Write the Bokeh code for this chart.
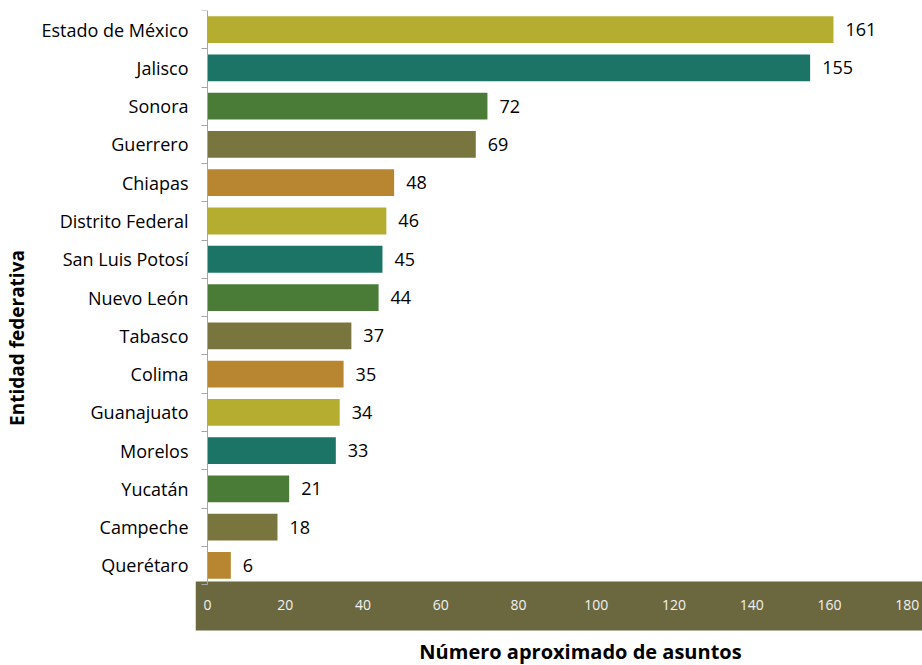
import math
from bokeh.plotting import figure
from bokeh.models import Range1d, FixedTicker, LinearAxis, Label, ColumnDataSource
from bokeh.core.properties import value
from bokeh.embed import file_html
from bokeh.resources import INLINE

# ---- data ----
categories = ["Estado de México", "Jalisco", "Sonora", "Guerrero", "Chiapas",
              "Distrito Federal", "San Luis Potosí", "Nuevo León", "Tabasco",
              "Colima", "Guanajuato", "Morelos", "Yucatán", "Campeche", "Querétaro"]
values = [161, 155, 72, 69, 48, 46, 45, 44, 37, 35, 34, 33, 21, 18, 6]
x_ticks = [0, 20, 40, 60, 80, 100, 120, 140, 160, 180]
x_title = "Número aproximado de asuntos"
y_title = "Entidad federativa"

# ---- style ----
palette = ["#B5AD30", "#1B7466", "#4A7C38", "#78753F", "#B88530"]
BAND = "#6B6840"
AXIS_GRAY = "#A6A6A6"
FONT = "Open Sans"

n = len(categories)
pos = [n - 1 - i for i in range(n)]
colors = [palette[i % len(palette)] for i in range(n)]

W, H = 922, 665
x_start, x_end = -3.09, 183.9
y_start, y_end = -2.615, n - 0.5
band_top, band_bottom = -0.42, -1.70

p = figure(width=W, height=H, output_backend="svg", toolbar_location=None,
           x_range=Range1d(x_start, x_end), y_range=Range1d(y_start, y_end),
           min_border_left=195, min_border_right=0, min_border_top=10,
           min_border_bottom=0)
p.outline_line_color = None
p.grid.visible = False
p.background_fill_color = "white"
p.border_fill_color = "white"

# dark band behind the x tick labels
p.quad(left=[x_start], right=[x_end], top=[band_top], bottom=[band_bottom],
       fill_color=BAND, line_color=None)

src = ColumnDataSource(dict(y=pos, v=values, c=colors,
                            lbl=[str(v) for v in values]))
p.hbar(y="y", left=0, right="v", height=0.7, fill_color="c",
       line_color=None, source=src)
p.text(x="v", y="y", text="lbl", x_offset=12, text_align="left",
       text_baseline="middle", text_font=value(FONT), text_font_size="18px",
       text_color="#000000", source=src)

# y axis with the category labels (at frame left)
yax = p.yaxis[0]
yax.ticker = FixedTicker(ticks=pos)
yax.major_label_overrides = {pp: c for pp, c in zip(pos, categories)}
yax.bounds = (-0.5, n - 0.5)
yax.axis_line_color = None
yax.major_tick_line_color = None
yax.minor_tick_line_color = None
yax.major_tick_out = 0
yax.major_tick_in = 0
yax.minor_tick_out = 0
yax.minor_tick_in = 0
yax.major_label_standoff = 7
yax.major_label_text_font = FONT
yax.major_label_text_font_size = "18px"
yax.major_label_text_color = "#000000"
yax.axis_label = y_title
yax.axis_label_standoff = 8
yax.axis_label_text_font = FONT
yax.axis_label_text_font_size = "19px"
yax.axis_label_text_font_style = "bold"
yax.axis_label_text_color = "#000000"

# axis line with category-boundary ticks, at x = 0
rule = LinearAxis(fixed_location=0, bounds=(-0.5, n - 0.5),
                  ticker=FixedTicker(ticks=[], minor_ticks=[k - 0.5 for k in range(n + 1)]),
                  axis_line_color=AXIS_GRAY, major_tick_line_color=None,
                  major_tick_out=0, major_tick_in=0,
                  minor_tick_out=6, minor_tick_in=0,
                  minor_tick_line_color=AXIS_GRAY)
p.add_layout(rule, "left")

# x axis (inside the band)
xax = p.xaxis[0]
xax.ticker = FixedTicker(ticks=x_ticks)
xax.fixed_location = band_top
xax.axis_line_color = None
xax.major_tick_line_color = None
xax.minor_tick_line_color = None
xax.major_label_standoff = 13
xax.major_label_text_font = FONT
xax.major_label_text_font_size = "14px"
xax.major_label_text_color = "#F2F2F2"

# x-axis title below the band
p.add_layout(Label(x=385, y=14, x_units="screen", y_units="screen",
                   text=x_title, text_align="center", text_baseline="middle",
                   text_font=FONT, text_font_size="20px",
                   text_font_style="bold", text_color="#000000"))

open("out.html", "w").write(file_html(p, INLINE))
